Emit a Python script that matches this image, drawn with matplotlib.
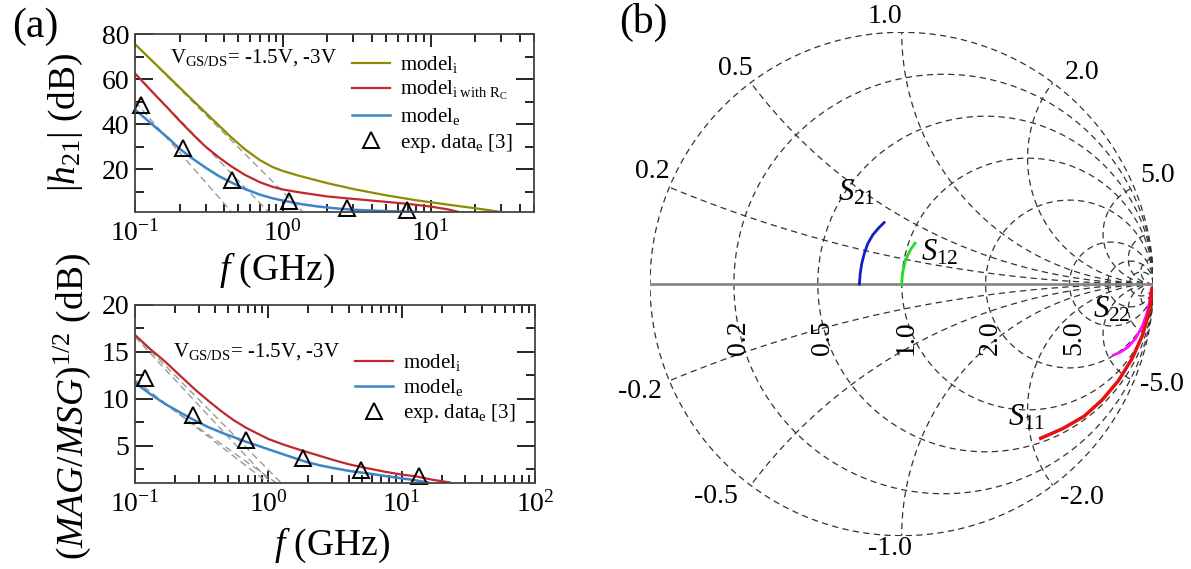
import numpy as np
import matplotlib.pyplot as plt
from matplotlib.ticker import LogLocator, NullFormatter

plt.rcParams['font.family'] = ['Liberation Serif', 'DejaVu Serif']
plt.rcParams['mathtext.fontset'] = 'custom'
plt.rcParams['mathtext.rm'] = 'Liberation Serif'
plt.rcParams['mathtext.it'] = 'Liberation Serif:italic'
plt.rcParams['mathtext.bf'] = 'Liberation Serif:bold'

# ---- panel (a) top : |h21| ----
f_h_model_i = [0.1, 0.2, 0.3, 0.44, 0.55, 0.7, 0.85, 1.0, 1.3, 2, 3, 5, 8, 14, 22, 30]
h_model_i = [75.5, 56.3, 45.1, 34.6, 29.0, 24.0, 21.0, 19.2, 17.0, 13.8, 11.2, 8.4, 6.2, 4.0, 2.3, 1.0]
f_h_model_rc = [0.1, 0.13, 0.17, 0.2, 0.25, 0.3, 0.37, 0.44, 0.55, 0.7, 0.85, 1.0, 1.3,
                2, 3, 5, 7, 10, 13, 15.5]
h_model_rc = [62.5, 54.5, 46.5, 41.5, 35.0, 30.0, 25.2, 21.6, 17.6, 14.2, 12.2, 11.0, 9.7,
              7.9, 6.8, 5.5, 4.6, 3.4, 2.2, 1.0]
f_h_model_e = [0.1, 0.13, 0.17, 0.2, 0.25, 0.3, 0.37, 0.44, 0.55, 0.7, 0.85, 1.0, 1.3,
               1.7, 2.2, 3, 5, 8.2]
h_model_e = [46.5, 40.0, 33.5, 29.1, 24.3, 20.7, 16.9, 14.4, 11.3, 8.7, 7.1, 6.1, 4.6,
             3.5, 2.7, 2.0, 1.4, 1.0]
f_h_exp = [0.11, 0.212, 0.45, 1.1, 2.7, 6.9]
h_exp = [48.5, 29.4, 15.4, 6.0, 2.9, 1.9]
# asymptote lines (start, end)
h_asym = [((0.1, 75.5), (1.37, 1)), ((0.1, 62.5), (0.8, 1)), ((0.1, 50), (0.45, 1))]

# ---- panel (a) bottom : (MAG/MSG)^1/2 ----
f_g_model_i = [0.1, 0.13, 0.17, 0.22, 0.286, 0.36, 0.45, 0.55, 0.68, 0.85, 1.0, 1.3, 1.71,
               2.3, 3, 4, 5.43, 7.5, 10, 12.9, 17, 22.9]
g_model_i = [16.8, 15.3, 13.9, 12.4, 10.9, 9.7, 8.6, 7.7, 6.9, 6.2, 5.7, 5.1, 4.55,
             4.0, 3.5, 3.0, 2.6, 2.2, 1.9, 1.7, 1.35, 1.06]
f_g_model_e = [0.1, 0.13, 0.17, 0.22, 0.27, 0.35, 0.45, 0.55, 0.68, 0.85, 1.0, 1.4, 1.92,
               2.5, 3.2, 4.2, 5.43, 7.5, 10, 12.5, 15.8]
g_model_e = [11.7, 10.5, 9.4, 8.5, 7.8, 7.0, 6.35, 5.9, 5.4, 4.95, 4.6, 3.9, 3.25,
             2.85, 2.55, 2.25, 2.05, 1.75, 1.5, 1.3, 1.06]
f_g_exp = [0.118, 0.27, 0.68, 1.81, 4.98, 13.6]
g_exp = [12.2, 8.3, 5.6, 3.7, 2.35, 1.7]
g_asym = [((0.1, 16.8), (1.25, 1)), ((0.1, 16.6), (1.05, 1)),
          ((0.1, 12.0), (1.0, 1)), ((0.1, 11.7), (1.15, 1))]

# ---- panel (b) : Smith chart, S-parameters (real, imag) ----
s21_re = [-0.168, -0.165, -0.159, -0.149, -0.135, -0.115, -0.092, -0.070]
s21_im = [0.0, 0.04, 0.08, 0.12, 0.16, 0.195, 0.222, 0.244]
s12_re = [0.0, 0.002, 0.007, 0.014, 0.024, 0.037, 0.053]
s12_im = [0.0, 0.03, 0.06, 0.09, 0.115, 0.14, 0.162]
s22_re = [0.992, 0.985, 0.973, 0.955, 0.930, 0.900, 0.870, 0.841]
s22_im = [-0.02, -0.07, -0.12, -0.17, -0.215, -0.25, -0.27, -0.283]
s11_re = [0.995, 0.985, 0.957, 0.915, 0.861, 0.797, 0.724, 0.639, 0.552]
s11_im = [-0.017, -0.103, -0.203, -0.297, -0.384, -0.460, -0.526, -0.575, -0.613]
grid_vals = [0.2, 0.5, 1.0, 2.0, 5.0, 10.0, 20.0]
r_labels = ['0.2', '0.5', '1.0', '2.0', '5.0']
x_labels = ['0.2', '0.5', '1.0', '2.0', '5.0', '-0.2', '-0.5', '-1.0', '-2.0', '-5.0']

c_olive = '#8c8c00'
c_red = '#c0282d'
c_blue = '#3d85c6'

W, H = 1191, 569
fig = plt.figure(figsize=(W / 100, H / 100), dpi=100)


def box(l, t, r, b):
    return [l / W, 1 - b / H, (r - l) / W, (b - t) / H]


def style_ax(ax):
    ax.set_xscale('log')
    for s in ax.spines.values():
        s.set_color('#444444')
        s.set_linewidth(1.3)
    ax.xaxis.set_minor_locator(LogLocator(base=10, subs=np.arange(2, 10)))
    ax.xaxis.set_minor_formatter(NullFormatter())
    ax.tick_params(which='both', direction='in', top=True, right=True,
                   color='black', width=1.2, labelsize=20, pad=4)
    ax.tick_params(axis='x', which='major', length=9, pad=6)
    ax.tick_params(axis='x', which='minor', length=5.5)
    ax.tick_params(axis='y', which='major', length=13)
    ax.tick_params(axis='y', which='minor', length=6.5)


dash = dict(color='#9a9a9a', lw=1.0, ls=(0, (5, 3)))
tri = dict(ls='none', marker='^', ms=12, mfc='none', mec='black', mew=1.4, clip_on=False)
leg_kw = dict(frameon=False, fontsize=15, handlelength=1.85, handletextpad=0.45,
              labelspacing=0.2, borderpad=0, borderaxespad=0, loc='upper left')

# top panel
ax1 = fig.add_axes(box(135, 34, 534, 212))
for (x0, y0), (x1, y1) in h_asym:
    ax1.plot([x0, x1], [y0, y1], **dash)
ax1.plot(f_h_model_i, h_model_i, color=c_olive, lw=1.6, label=r'model$_\mathrm{i}$')
ax1.plot(f_h_model_rc, h_model_rc, color=c_red, lw=1.6, label=r'model$_{\mathrm{i\ with\ R_C}}$')
ax1.plot(f_h_model_e, h_model_e, color=c_blue, lw=1.8, label=r'model$_\mathrm{e}$')
ax1.plot(f_h_exp, h_exp, label=r'exp. data$_\mathrm{e}$ [3]', **tri)
style_ax(ax1)
ax1.set_xlim(0.1, 50)
ax1.set_ylim(1, 80)
ax1.set_yticks([20, 40, 60, 80])
ax1.set_yticks([10, 30, 50, 70], minor=True)
ax1.text(0.088, 0.87, r'V$_\mathrm{GS/DS}$= -1.5V, -3V', transform=ax1.transAxes,
         fontsize=15, va='center')
ax1.legend(bbox_to_anchor=(0.543, 0.888), **leg_kw)

# bottom panel
ax2 = fig.add_axes(box(135, 305, 535, 483))
for (x0, y0), (x1, y1) in g_asym:
    ax2.plot([x0, x1], [y0, y1], **dash)
ax2.plot(f_g_model_i, g_model_i, color=c_red, lw=1.6, label=r'model$_\mathrm{i}$')
ax2.plot(f_g_model_e, g_model_e, color=c_blue, lw=1.8, label=r'model$_\mathrm{e}$')
ax2.plot(f_g_exp, g_exp, label=r'exp. data$_\mathrm{e}$ [3]', **tri)
style_ax(ax2)
ax2.set_xlim(0.1, 100)
ax2.set_ylim(1, 20)
ax2.set_yticks([5, 10, 15, 20])
ax2.set_yticks([2.5, 7.5, 12.5, 17.5], minor=True)
ax2.text(0.095, 0.74, r'V$_\mathrm{GS/DS}$= -1.5V, -3V', transform=ax2.transAxes,
         fontsize=15, va='center')
ax2.legend(bbox_to_anchor=(0.549, 0.737), **leg_kw)

# axis labels
fig.text(66 / W, 1 - 122 / H, r'$|h_{\mathit{21}}|$ (dB)', rotation=90,
         ha='center', va='center', fontsize=27)
fig.text(277 / W, 1 - 270 / H, r'$f$ (GHz)', ha='center', va='center', fontsize=27)
fig.text(72 / W, 1 - 407 / H, r'$(MAG/MSG)^{\mathit{1/2}}$ (dB)', rotation=90,
         ha='center', va='center', fontsize=27)
fig.text(332 / W, 1 - 545 / H, r'$f$ (GHz)', ha='center', va='center', fontsize=27)
fig.text(35 / W, 1 - 27 / H, '(a)', ha='center', va='center', fontsize=30)
fig.text(643 / W, 1 - 22 / H, '(b)', ha='center', va='center', fontsize=30)

# Smith chart
ax3 = fig.add_axes(box(650, 32.3, 1153.4, 535.7))
ax3.set_xlim(-1, 1)
ax3.set_ylim(-1, 1)
ax3.axis('off')
grid = dict(color='#333333', lw=0.9, ls=(0, (5, 3.5)))
t = np.linspace(0, 2 * np.pi, 400)
ax3.plot(np.cos(t), np.sin(t), **grid)
for r in grid_vals:
    c, rad = r / (1 + r), 1 / (1 + r)
    ax3.plot(c + rad * np.cos(t), rad * np.sin(t), **grid)
for xv in grid_vals:
    a_end = np.arctan2((xv ** 2 - 1) / xv, -2)
    if a_end < 0:
        a_end += 2 * np.pi
    a = np.linspace(1.5 * np.pi, a_end, 200)
    for sgn in (1, -1):
        ax3.plot(1 + np.cos(a) / xv, sgn * (1 / xv + np.sin(a) / xv), **grid)
ax3.plot([-1, 1], [0, 0], color='#888888', lw=2)

ax3.plot(s21_re, s21_im, color='#1020c8', lw=2)
ax3.plot(s12_re, s12_im, color='#22dd22', lw=2)
ax3.plot(s22_re, s22_im, color='#ff10ff', lw=2)
ax3.plot(s11_re, s11_im, color='#e81010', lw=2.5)

lab = dict(fontsize=22, ha='center', va='center', clip_on=False)
ax3.text(-0.178, 0.362, r'$S_{21}$', **lab)
ax3.text(0.152, 0.123, r'$S_{12}$', **lab)
ax3.text(0.836, -0.103, r'$S_{22}$', **lab)
ax3.text(0.498, -0.532, r'$S_{11}$', **lab)

x_label_pos = [(-0.990, 0.445), (-0.662, 0.858), (-0.067, 1.061), (0.716, 0.842),
               (1.018, 0.433), (-1.039, -0.429), (-0.737, -0.846), (-0.047, -1.049),
               (0.716, -0.850), (1.034, -0.401)]
for s, (px, py) in zip(x_labels, x_label_pos):
    ax3.text(px, py, s, fontsize=20, ha='center', va='center', clip_on=False)
for s, r in zip(r_labels, grid_vals):
    ax3.text((r - 1) / (r + 1) + 0.018, -0.212, s, fontsize=20, rotation=90,
             ha='center', va='center')

fig.savefig('out.png', dpi=100)
